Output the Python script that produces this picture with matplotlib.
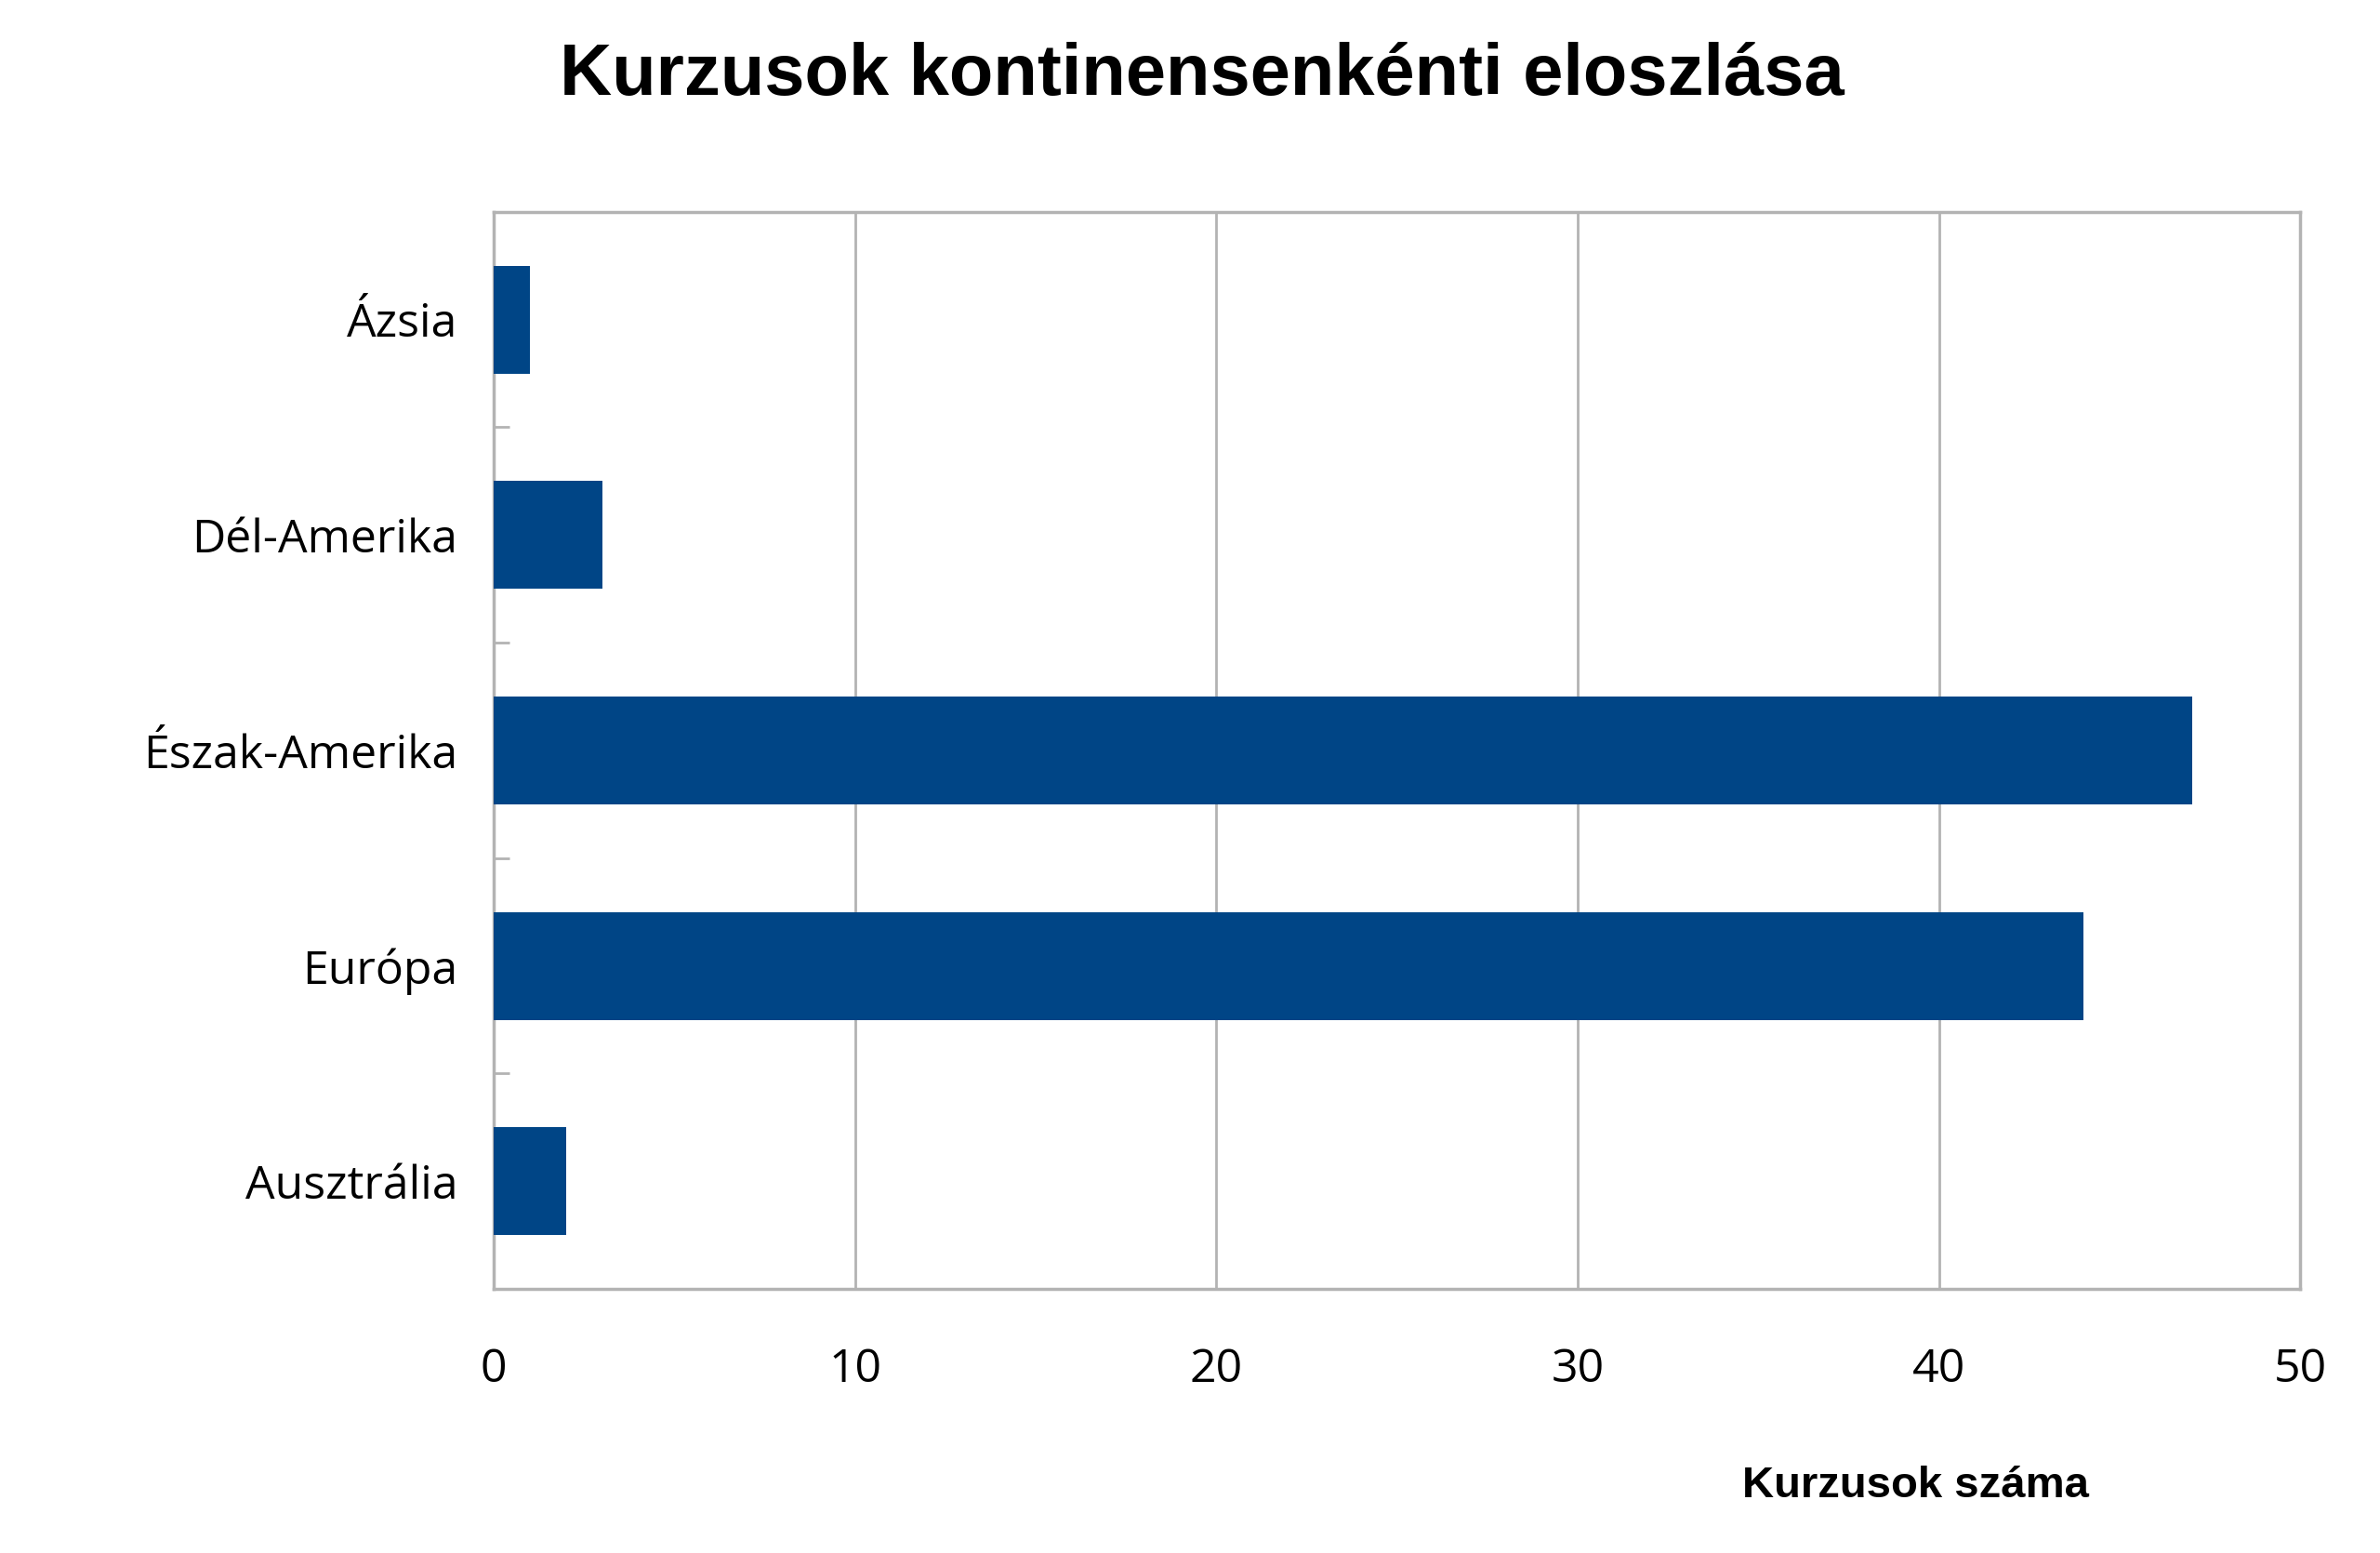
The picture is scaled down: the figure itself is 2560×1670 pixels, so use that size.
import matplotlib
matplotlib.use("Agg")
import matplotlib.pyplot as plt

categories = ["Ázsia", "Dél-Amerika", "Észak-Amerika", "Európa", "Ausztrália"]
values = [1, 3, 47, 44, 2]
xticks = [0, 10, 20, 30, 40, 50]

fig = plt.figure(figsize=(25.6, 16.7), dpi=100)
ax = fig.add_axes([0.2075, 0.170, 0.759, 0.6936])
ypos = list(range(len(categories)))
ax.barh(ypos, values, height=0.5, color="#004586", zorder=3)
ax.set_ylim(len(categories) - 0.5, -0.5)
ax.set_xlim(0, 50)
ax.set_xticks(xticks)
ax.set_xticklabels([str(t) for t in xticks], family="Open Sans", fontsize=36)
ax.set_yticks(ypos)
ax.set_yticklabels(categories, family="Open Sans", fontsize=36)
ax.set_yticks([i + 0.5 for i in range(len(categories) - 1)], minor=True)
ax.tick_params(axis="y", which="major", length=0, pad=28)
ax.tick_params(axis="y", which="minor", direction="in", length=12, color="#b3b3b3", width=2)
ax.tick_params(axis="x", length=0, pad=45)
ax.grid(axis="x", color="#b3b3b3", linewidth=2, zorder=0)
for s in ax.spines.values():
    s.set_color("#b3b3b3")
    s.set_linewidth(2.5)
fig.text(0.505, 0.951, "Kurzusok kontinensenkénti eloszlása", ha="center", va="center",
         family="Liberation Sans", fontweight="bold", fontsize=56)
fig.text(0.805, 0.043, "Kurzusok száma", ha="center", va="center",
         family="Liberation Sans", fontweight="bold", fontsize=34)
fig.savefig("out.png", dpi=100, facecolor="white")
